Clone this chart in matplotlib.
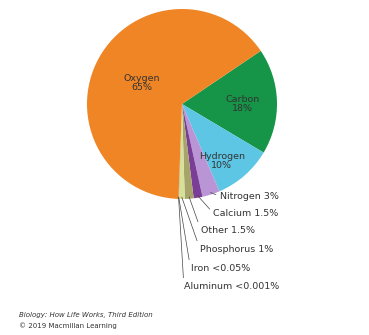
import numpy as np
import matplotlib.pyplot as plt

# body composition by mass (percent)
elements = ['Carbon', 'Hydrogen', 'Nitrogen', 'Calcium', 'Other',
            'Phosphorus', 'Iron', 'Aluminum', 'Oxygen']
values = [18, 10, 3, 1.5, 1.5, 1, 0.05, 0.001, 65]
labels = ['Carbon\n18%', 'Hydrogen\n10%', 'Nitrogen 3%', 'Calcium 1.5%',
          'Other 1.5%', 'Phosphorus 1%', 'Iron <0.05%', 'Aluminum <0.001%',
          'Oxygen\n65%']
colors = ['#169447', '#5cc6e4', '#b995d6', '#7a3e96', '#a7a46a',
          '#d6e09a', '#8a8a8a', '#bdbdbd', '#f08526']

# label spots for the small slices (data units, pie radius = 1)
small_xy = {'Nitrogen 3%': (0.40, -0.97), 'Calcium 1.5%': (0.33, -1.15),
            'Other 1.5%': (0.20, -1.33), 'Phosphorus 1%': (0.19, -1.53),
            'Iron <0.05%': (0.09, -1.73), 'Aluminum <0.001%': (0.02, -1.92)}

fig = plt.figure(figsize=(3.69, 3.35), dpi=100)
cx, cy, r = 182, 104, 95
ax = fig.add_axes([(cx - r) / 369, (335 - cy - r) / 335, 2 * r / 369, 2 * r / 335])

wedges, _ = ax.pie(values, colors=colors, startangle=34, counterclock=False,
                   radius=1, wedgeprops=dict(linewidth=0))
ax.set_xlim(-1, 1)
ax.set_ylim(-1, 1)
ax.set_aspect('equal')
ax.axis('off')

inside = {'Oxygen\n65%': (-0.42, 0.22), 'Carbon\n18%': (0.64, 0.0),
          'Hydrogen\n10%': (0.42, -0.6)}
for w, lab in zip(wedges, labels):
    if lab in inside:
        x, y = inside[lab]
        ax.text(x, y, lab, ha='center', va='center', fontsize=6.8,
                color='#333333', linespacing=1.0)
    else:
        ang = np.deg2rad((w.theta1 + w.theta2) / 2)
        x0, y0 = 0.98 * np.cos(ang), 0.98 * np.sin(ang)
        ax.annotate(lab, xy=(x0, y0), xytext=small_xy[lab],
                    ha='left', va='center', fontsize=6.8, color='#333333',
                    annotation_clip=False,
                    arrowprops=dict(arrowstyle='-', color='#444444', lw=0.5,
                                    relpos=(0, 0.5), shrinkA=1, shrinkB=0))

fig.text(0.052, 0.054, 'Biology: How Life Works, Third Edition', fontsize=5,
         style='italic', color='#333333')
fig.text(0.052, 0.021, '\u00a9 2019 Macmillan Learning', fontsize=5, color='#333333')

fig.savefig('out.png', dpi=100)
